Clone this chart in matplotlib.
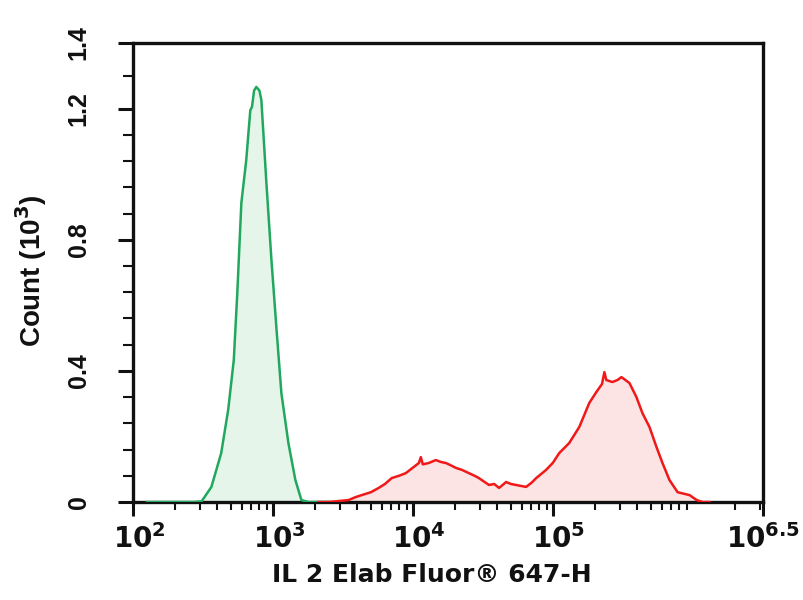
import numpy as np
import matplotlib
matplotlib.use("Agg")
import matplotlib.pyplot as plt
import matplotlib.transforms as mtransforms
from matplotlib.ticker import FixedLocator, LogLocator, NullFormatter
from matplotlib import font_manager

plt.rcParams['font.family'] = ['DejaVu Sans']
plt.rcParams['mathtext.fontset'] = 'dejavusans'

# ---- data (log10 fluorescence, count in thousands) ----
green_log = [2.10, 2.43, 2.49, 2.56, 2.63, 2.68, 2.72, 2.745, 2.774, 2.809, 2.838,
             2.850, 2.865, 2.881, 2.903, 2.917, 2.953, 2.989, 3.024, 3.060,
             3.110, 3.160, 3.203, 3.254, 3.40]
green_cnt = [0.0, 0.0, 0.002, 0.046, 0.149, 0.281, 0.433, 0.637, 0.912, 1.043, 1.195,
             1.205, 1.255, 1.266, 1.255, 1.226, 0.973, 0.738, 0.534, 0.332,
             0.180, 0.067, 0.006, 0.0, 0.0]

red_log = [3.325, 3.397, 3.47, 3.540, 3.59, 3.633, 3.70, 3.755, 3.80, 3.848, 3.90,
           3.948, 4.00, 4.042, 4.056, 4.070, 4.113, 4.163, 4.20, 4.235, 4.27,
           4.307, 4.35, 4.400, 4.44, 4.471, 4.543, 4.58, 4.615, 4.665, 4.70,
           4.736, 4.808, 4.85, 4.880, 4.951, 5.00, 5.044, 5.116, 5.188, 5.259,
           5.309, 5.350, 5.367, 5.381, 5.424, 5.46, 5.489, 5.546, 5.596, 5.639,
           5.689, 5.739, 5.782, 5.832, 5.890, 5.976, 6.026, 6.069, 6.119]
red_cnt = [0.0, 0.0, 0.003, 0.006, 0.015, 0.021, 0.030, 0.043, 0.055, 0.073, 0.080,
           0.088, 0.105, 0.119, 0.137, 0.115, 0.119, 0.128, 0.122, 0.119, 0.112,
           0.104, 0.098, 0.088, 0.080, 0.073, 0.052, 0.055, 0.043, 0.061, 0.055,
           0.052, 0.046, 0.060, 0.073, 0.098, 0.120, 0.149, 0.180, 0.229, 0.302,
           0.335, 0.360, 0.396, 0.372, 0.366, 0.372, 0.381, 0.363, 0.320, 0.271,
           0.229, 0.168, 0.119, 0.067, 0.030, 0.021, 0.006, 0.0, 0.0]

x_major_exp = [2, 3, 4, 5, 6.5]
x_major_labels = [r'$\mathbf{10^{2}}$', r'$\mathbf{10^{3}}$', r'$\mathbf{10^{4}}$',
                  r'$\mathbf{10^{5}}$', r'$\mathbf{10^{6.5}}$']
y_major = [0, 0.4, 0.8, 1.2, 1.4]
y_major_labels = ['0', '0.4', '0.8', '1.2', '1.4']

# condensed font for y tick labels if available
narrow = None
for f in font_manager.fontManager.ttflist:
    if 'Narrow' in f.name and 'Liberation' in f.name:
        narrow = f.name
        break
ytick_family = [narrow, 'Liberation Sans'] if narrow else ['Liberation Sans']

fig = plt.figure(figsize=(8.04, 6.0), dpi=100)
ax = fig.add_axes([0.1654, 0.1633, 0.9490 - 0.1654, 0.9283 - 0.1633])

gx = 10 ** np.array(green_log)
rx = 10 ** np.array(red_log)
ax.fill_between(gx, green_cnt, 0, color='#e6f5ea', lw=0, zorder=1)
ax.plot(gx, green_cnt, color='#22a85e', lw=1.8, zorder=3)
ax.fill_between(rx, red_cnt, 0, color='#fde4e4', lw=0, zorder=1)
ax.plot(rx, red_cnt, color='#f01818', lw=1.8, zorder=3)

ax.set_xscale('log')
ax.set_xlim(10 ** 2, 10 ** 6.5)
ax.set_ylim(0, 1.4)

ax.xaxis.set_major_locator(FixedLocator([10 ** e for e in x_major_exp]))
ax.set_xticklabels(x_major_labels)
ax.xaxis.set_minor_locator(LogLocator(base=10, subs=np.arange(2, 10), numticks=50))
ax.xaxis.set_minor_formatter(NullFormatter())

ax.yaxis.set_major_locator(FixedLocator(y_major))
ax.set_yticklabels(y_major_labels, rotation=90, va='center', ha='center')
ax.yaxis.set_minor_locator(FixedLocator([0.08, 0.16, 0.24, 0.32, 0.48, 0.56, 0.64, 0.72,
                                          0.88, 0.96, 1.04, 1.12, 1.3]))

for s in ax.spines.values():
    s.set_linewidth(2.4)
    s.set_color('#111111')

ax.tick_params(axis='x', which='major', direction='out', length=10, width=2.2,
               labelsize=20, pad=6, colors='#111111')
ax.tick_params(axis='x', which='minor', direction='out', length=6, width=1.5, colors='#111111')
ax.tick_params(axis='y', which='major', direction='out', length=11, width=2.2,
               labelsize=18, pad=28, colors='#111111')
ax.tick_params(axis='y', which='minor', direction='out', length=7, width=1.5, colors='#111111')
for lab in ax.get_yticklabels():
    lab.set_fontweight('bold')
    lab.set_family(ytick_family)

# shift integer-exponent labels so that "10" sits over the tick
for i, lab in enumerate(ax.get_xticklabels()):
    if i < len(x_major_labels) - 1:
        off = mtransforms.ScaledTranslation(6 / 100, 0, fig.dpi_scale_trans)
        lab.set_transform(lab.get_transform() + off)

fig.text(432 / 804, 1 - 575 / 600, 'IL 2 Elab Fluor® 647-H', fontsize=18,
         fontweight='bold', ha='center', va='center', color='#111111')
fig.text(31 / 804, 1 - 271 / 600, r'Count (10$^{\mathbf{3}}$)', fontsize=20,
         fontweight='bold', ha='center', va='center', rotation=90,
         family=['Liberation Sans'], color='#111111')

fig.savefig('out.png', dpi=100)
